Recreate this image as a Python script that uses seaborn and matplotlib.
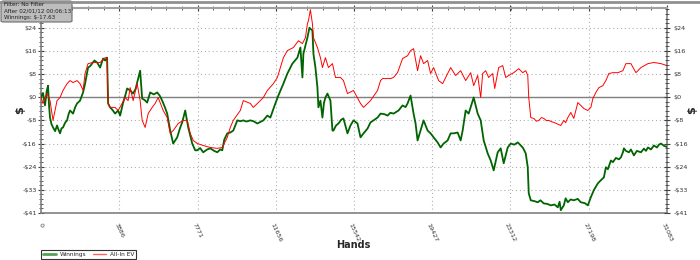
import numpy as np
import pandas as pd
import matplotlib
matplotlib.use("Agg")
import matplotlib.pyplot as plt
from matplotlib.ticker import FixedLocator, AutoMinorLocator
from matplotlib.lines import Line2D
from matplotlib.patches import FancyBboxPatch
import seaborn as sns

# ---------------- data ----------------
win_hands = [0, 100, 199, 280, 348, 400, 448, 520, 597, 700, 796, 870, 945, 1020, 1094, 1200, 1293,
             1370, 1442, 1591, 1700, 1790, 1939, 2089, 2188, 2337, 2440, 2536, 2650, 2785, 2934,
             3083, 3183, 3282, 3332, 3431, 3550, 3680, 3829, 3929, 4078, 4180, 4277, 4426, 4575,
             4700, 4774, 4923, 5023, 5150, 5271, 5421, 5600, 5769, 5900, 6017, 6150, 6266, 6415,
             6564, 6763, 6900, 7012, 7161, 7310, 7509, 7658, 7758, 7900, 8056, 8250, 8404, 8600,
             8752, 8900, 9001, 9100, 9250, 9400, 9548, 9747, 9900, 10045, 10200, 10394, 10550,
             10742, 10900, 11040, 11239, 11388, 11637, 11786, 12035, 12234, 12482, 12731, 12880,
             12980, 13029, 13228, 13328, 13477, 13527, 13626, 13726, 13775, 13875, 13974, 14050,
             14123, 14223, 14372, 14471, 14521, 14650, 14770, 14900, 15018, 15217, 15367, 15516,
             15715, 15864, 16013, 16213, 16362, 16511, 16710, 16859, 17050, 17207, 17350, 17505,
             17754, 17953, 18100, 18201, 18350, 18499, 18599, 18698, 18848, 18997, 19196, 19345,
             19494, 19693, 19842, 19991, 20190, 20340, 20489, 20688, 20837, 20936, 21086, 21235,
             21434, 21484, 21683, 21832, 21981, 22180, 22329, 22478, 22677, 22826, 22975, 23174,
             23324, 23500, 23672, 23920, 24069, 24169, 24218, 24318, 24500, 24666, 24800, 24964,
             25150, 25313, 25500, 25661, 25750, 25810, 25959, 26050, 26158, 26300, 26456, 26650,
             26804, 27000, 27153, 27302, 27451, 27650, 27799, 27948, 28048, 28147, 28297, 28396,
             28545, 28695, 28794, 28894, 28943, 29043, 29192, 29291, 29440, 29589, 29788, 29938,
             30038, 30137, 30286, 30435, 30585, 30684, 30783, 30933, 31083]
win_values = [0.0, 1.5, -2.9, 2.0, 4.1, -3.0, -7.2, -9.5, -10.7, -12.0, -10.0, -11.5, -12.8, -11.0, -10.7, -9.0, -8.2,
              -6.0, -4.7, -5.8, -3.5, -2.2, -1.2, 1.7, 4.8, 10.5, 11.0, 11.9, 13.0, 12.3, 10.5,
              13.7, 13.0, 14.0, -2.2, -3.6, -4.5, -5.8, -4.7, -6.5, -1.9, 0.5, 3.1, 2.4, 1.3,
              3.0, 5.2, 9.4, -0.5, -1.0, -1.9, 1.7, 1.0, 1.7, 0.5, -1.2, -3.5, -5.8, -11.8,
              -16.4, -14.2, -11.0, -8.9, -4.7, -10.7, -16.4, -18.8, -18.8, -18.0, -19.5, -18.5, -18.1, -19.0,
              -19.5, -18.5, -18.8, -15.0, -12.8, -12.5, -11.8, -8.2, -8.5, -8.2, -8.6, -8.2, -8.5,
              -9.3, -8.7, -8.2, -6.5, -7.2, -2.2, 0.6, 4.8, 8.4, 11.9, 14.0, 17.6,
              7.0, 15.4, 21.1, 24.6, 23.6, 15.4, 10.5, 3.4, -3.6, -1.2, -7.2, -2.0,
              -0.1, 1.3, -1.2, -11.8, -11.8, -10.0, -9.3, -8.0, -7.5, -12.8, -10.0, -8.2,
              -9.3, -14.2, -12.8, -11.1, -8.9, -8.2, -7.2, -5.8, -6.0, -6.5, -5.5, -5.8,
              -4.7, -2.9, -3.5, -2.2, 0.6, -5.8, -9.3, -15.3, -11.8, -8.2, -11.8, -12.8,
              -14.2, -16.0, -17.8, -16.4, -15.3, -12.8, -12.8, -12.5, -15.3, -11.8, -4.7, -5.8,
              -1.2, -0.1, -5.8, -8.2, -15.3, -19.9, -22.4, -25.9, -19.5, -18.1, -23.4, -17.8,
              -16.4, -16.8, -16.0, -17.8, -19.9, -24.8, -34.0, -36.5, -36.8, -37.2, -36.5, -37.6,
              -37.8, -38.3, -38.0, -39.0, -37.0, -40.0, -38.3, -35.8, -37.2, -36.2, -36.5, -36.0,
              -37.2, -37.5, -38.3, -35.4, -32.9, -30.5, -29.4, -28.4, -24.8, -25.5, -22.4, -23.0,
              -21.5, -22.0, -21.3, -19.5, -18.1, -19.0, -19.5, -18.5, -20.6, -19.0, -19.5, -18.2,
              -19.0, -17.8, -18.5, -17.1, -17.8, -16.8, -16.4, -17.2, -17.63]

ev_hands = [0, 99, 298, 448, 597, 796, 945, 1094, 1293, 1442, 1591, 1790, 1939, 2089, 2188, 2337,
            2586, 2934, 3183, 3282, 3332, 3431, 3680, 3829, 4028, 4177, 4326, 4426, 4575, 4774,
            4923, 5023, 5172, 5321, 5520, 5669, 5818, 6067, 6266, 6415, 6564, 6813, 7062, 7261,
            7410, 7559, 7758, 8056, 8404, 8752, 9001, 9250, 9399, 9548, 9896, 10045, 10394, 10543,
            10891, 11040, 11239, 11538, 11736, 11885, 12035, 12234, 12532, 12781, 12980, 13129,
            13228, 13278, 13377, 13477, 13527, 13726, 13875, 13974, 14123, 14273, 14471, 14621,
            14869, 15018, 15217, 15516, 15864, 16013, 16362, 16710, 16859, 16959, 17356, 17505,
            17704, 17953, 18201, 18350, 18499, 18698, 18848, 18997, 19196, 19345, 19494, 19743,
            19942, 20190, 20340, 20588, 20837, 21086, 21335, 21484, 21683, 21832, 21931, 22080,
            22229, 22428, 22528, 22727, 22926, 23075, 23224, 23473, 23721, 23920, 24069, 24169,
            24218, 24318, 24467, 24600, 24716, 24850, 24964, 25100, 25213, 25350, 25462, 25650,
            25810, 25959, 26050, 26158, 26307, 26456, 26655, 26804, 26954, 27153, 27302, 27401,
            27551, 27700, 27899, 28048, 28197, 28396, 28645, 28894, 29043, 29291, 29540, 29788,
            30137, 30435, 30783, 31083]
ev_values = [0.0, -2.2, 1.3, -1.2, -8.2, -1.2, -0.1, 2.4, 4.8, 5.9, 5.2, 5.9, 4.8, 2.4, 8.4, 11.9,
             12.3, 12.3, 14.0, 14.0, -2.2, -3.6, -3.6, -4.7, -2.2, -0.1, -1.2, 3.4, -1.2, 4.8,
             -1.2, -8.2, -10.7, -5.8, -3.6, -2.2, -0.1, -4.7, -7.2, -12.8, -11.8, -9.3, -8.2, -8.2,
             -12.8, -15.3, -16.4, -17.1, -17.8, -18.1, -17.8, -14.2, -10.7, -8.2, -4.7, -1.2, -2.2, -3.6,
             -1.2, -0.1, 2.4, 4.8, 7.0, 10.5, 14.0, 16.5, 17.6, 20.0, 19.0, 21.1,
             26.0, 27.1, 31.0, 26.0, 21.1, 17.6, 14.0, 10.5, 14.0, 10.5, 11.9, 7.0,
             7.0, 5.9, 1.3, 2.4, -2.2, -3.6, -1.2, 2.4, 5.9, 6.6, 6.6, 7.0,
             8.7, 13.7, 14.7, 16.5, 17.2, 9.4, 14.7, 11.9, 13.0, 8.4, 10.5, 5.9,
             4.8, 8.4, 10.5, 7.7, 9.4, 5.9, 8.7, 4.1, 7.7, -0.1, 8.4, 9.4,
             7.0, 8.4, 3.1, 10.5, 11.2, 7.0, 7.7, 8.7, 10.1, 8.7, 9.4, 7.7,
             -0.1, -7.2, -7.5, -8.5, -8.2, -7.2, -7.5, -8.3, -8.2, -8.7, -8.9, -9.5,
             -10.0, -8.2, -9.0, -7.2, -5.4, -7.5, -1.9, -2.9, -4.0, -4.7, -3.6, -0.5,
             1.7, 3.4, 4.1, 5.9, 8.4, 8.7, 8.7, 9.4, 11.9, 11.9, 8.7, 10.5,
             11.9, 12.3, 11.9, 11.2]

series_names = ["Winnings", "All-In EV"]
series_colors = ["#006400", "#ff0000"]

x_ticks = [0, 3886, 7771, 11656, 15542, 19427, 23312, 27198, 31083]
y_step = 8.2
y_tick_labels = ["-$41", "-$33", "-$24", "-$16", "-$8", "$0", "$8", "$16", "$24"]
info_lines = ["Filter: No Filter", "After 02/01/12 00:06:13", "Winnings: $-17.63"]

# ---------------- figure ----------------
sns.set_style("white")
plt.rcParams['font.family'] = ['DejaVu Sans']

W, H = 700, 260
fig = plt.figure(figsize=(7.0, 2.6), dpi=100)
L, R, T, B = 41, 667, 8, 213
ax = fig.add_axes([L / W, 1 - B / H, (R - L) / W, (B - T) / H])

df = pd.concat([
    pd.DataFrame({"Hands": win_hands, "Value": win_values, "Series": series_names[0]}),
    pd.DataFrame({"Hands": ev_hands, "Value": ev_values, "Series": series_names[1]}),
])

sns.lineplot(data=df[df.Series == series_names[0]], x="Hands", y="Value", color=series_colors[0],
             lw=1.3, estimator=None, ax=ax, legend=False, zorder=3)
sns.lineplot(data=df[df.Series == series_names[1]], x="Hands", y="Value", color=series_colors[1],
             lw=0.7, estimator=None, ax=ax, legend=False, zorder=4)

y_ticks = [y_step * k for k in range(-5, 4)]
ax.set_xlim(0, 31083)
ax.set_ylim(-41, 31.6)
ax.axhline(0, color="#808080", lw=1.0, zorder=2)

ax.xaxis.set_major_locator(FixedLocator(x_ticks))
ax.set_xticklabels([str(v) for v in x_ticks], rotation=-65, ha="center", va="top", fontsize=4.6,
                   color="#333333")
ax.xaxis.set_minor_locator(AutoMinorLocator(5))
ax.yaxis.set_major_locator(FixedLocator(y_ticks))
ax.set_yticklabels(y_tick_labels, fontsize=4.6, color="#333333")
ax.yaxis.set_minor_locator(AutoMinorLocator(5))

ax.grid(True, which="major", linestyle=(0, (1, 2.5)), color="#b0b0b0", lw=0.8)
ax.tick_params(axis="both", which="major", direction="inout", length=5, width=0.8, color="#404040",
               top=True, right=True)
ax.tick_params(axis="both", which="minor", direction="inout", length=3, width=0.6, color="#404040",
               top=True, right=True)
ax.tick_params(axis="y", which="major", pad=0.6)
ax.tick_params(axis="x", which="major", pad=4)
for s in ["left", "right", "bottom"]:
    ax.spines[s].set_color("#808080")
    ax.spines[s].set_linewidth(1.2)
ax.spines["top"].set_color("#a0a0a0")
ax.spines["top"].set_linewidth(1.5)

ax2 = ax.twinx()
ax2.set_ylim(ax.get_ylim())
ax2.yaxis.set_major_locator(FixedLocator(y_ticks))
ax2.set_yticklabels(y_tick_labels, fontsize=4.6, color="#333333")
ax2.yaxis.set_minor_locator(AutoMinorLocator(5))
ax2.tick_params(axis="y", which="major", direction="inout", length=5, width=0.8, color="#404040", pad=2)
ax2.tick_params(axis="y", which="minor", direction="inout", length=3, width=0.6, color="#404040")
for s in ax2.spines.values():
    s.set_visible(False)

ax.set_xlabel("")
ax.set_ylabel("")
fig.text(20 / W, 1 - 110 / H, "$", rotation=90, fontsize=8, fontweight="bold", ha="center", va="center")
fig.text(692 / W, 1 - 110 / H, "$", rotation=90, fontsize=8, fontweight="bold", ha="center", va="center")
fig.text(353 / W, 1 - 245 / H, "Hands", fontsize=7, fontweight="bold", ha="center", va="center")

# top separator
fig.add_artist(Line2D([0, 1], [1 - 1.5 / H, 1 - 1.5 / H], color="#909090", lw=2.0))

# info box
fig.add_artist(FancyBboxPatch((1 / W, 1 - 22 / H), 71 / W, 21 / H, boxstyle="round,pad=0,rounding_size=0.004",
                              transform=fig.transFigure, facecolor="#bdbdbd", edgecolor="#6e6e6e", lw=0.8))
for i, line in enumerate(info_lines):
    fig.text(4 / W, 1 - (5 + i * 6.3) / H, line, fontsize=4.1, color="#202020", ha="left", va="center")

# legend
handles = [Line2D([], [], color="#55a055", lw=2.0), Line2D([], [], color="#ff6060", lw=1.0)]
leg = fig.legend(handles, series_names, loc="upper left", bbox_to_anchor=(41 / W, 1 - 250 / H),
                 ncol=2, fontsize=4.2, frameon=True, fancybox=False, edgecolor="#000000",
                 handlelength=2.3, borderpad=0.3, columnspacing=1.0, handletextpad=0.7,
                 borderaxespad=0)
leg.get_frame().set_linewidth(0.8)

fig.savefig("out.png", dpi=100)
